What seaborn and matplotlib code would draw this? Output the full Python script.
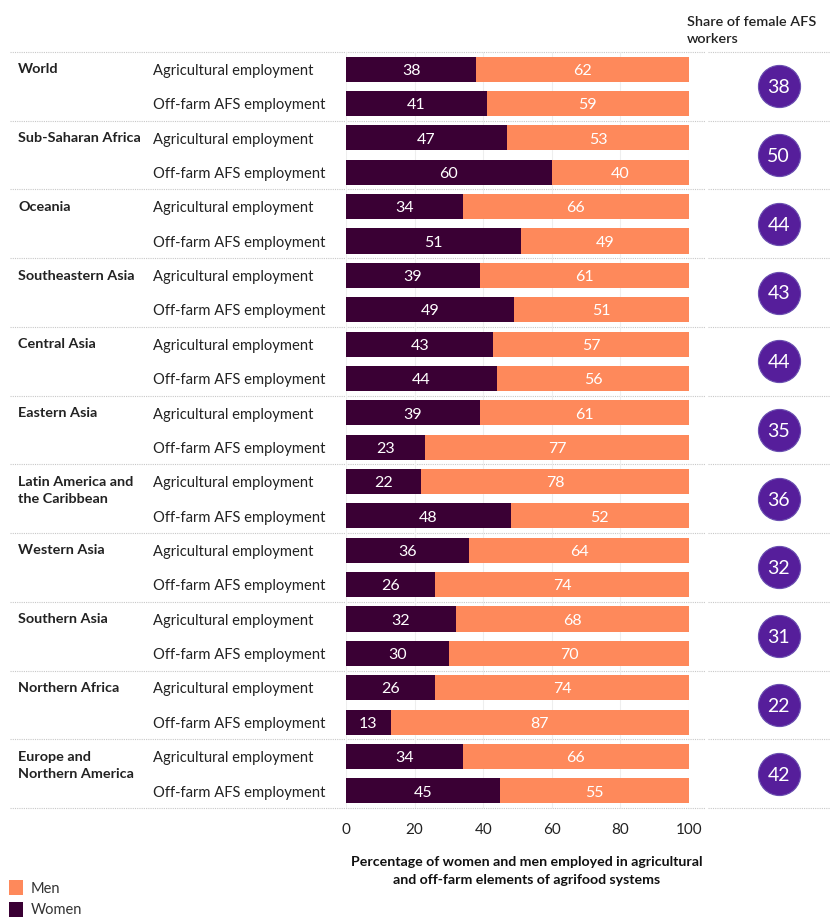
import matplotlib
matplotlib.use("Agg")
import matplotlib.pyplot as plt
import matplotlib.transforms as mtransforms
from matplotlib.patches import Patch
import seaborn as sns
import pandas as pd

regions = [
    "World", "Sub-Saharan Africa", "Oceania", "Southeastern Asia", "Central Asia",
    "Eastern Asia", "Latin America and\nthe Caribbean", "Western Asia",
    "Southern Asia", "Northern Africa", "Europe and\nNorthern America",
]
sectors = ["Agricultural employment", "Off-farm AFS employment"]

women_agri = [38, 47, 34, 39, 43, 39, 22, 36, 32, 26, 34]
men_agri = [62, 53, 66, 61, 57, 61, 78, 64, 68, 74, 66]
women_offfarm = [41, 60, 51, 49, 44, 23, 48, 26, 30, 13, 45]
men_offfarm = [59, 40, 49, 51, 56, 77, 52, 74, 70, 87, 55]
female_share = [38, 50, 44, 43, 44, 35, 36, 32, 31, 22, 42]

C_WOMEN = "#3a0034"
C_MEN = "#fe895b"
C_CIRCLE = "#561e9b"

rows = []
for i, reg in enumerate(regions):
    for sec, w, m in ((sectors[0], women_agri[i], men_agri[i]),
                      (sectors[1], women_offfarm[i], men_offfarm[i])):
        rows.append({"region": reg, "sector": sec, "key": f"{i}-{sec}",
                     "women": w, "men": m, "total": w + m})
df = pd.DataFrame(rows)

sns.set_theme(style="white")
plt.rcParams["font.family"] = ["Lato", "DejaVu Sans"]

W, H = 830, 919
fig = plt.figure(figsize=(W / 100, H / 100), dpi=100)

top_px, bot_px = 52, 808
ax = fig.add_axes([346 / W, 1 - bot_px / H, 343 / W, (bot_px - top_px) / H])

# stacked bars: full bar in the men's colour, women's share drawn over it
sns.barplot(data=df, x="total", y="key", color=C_MEN, width=0.73,
            orient="h", ax=ax, linewidth=0, saturation=1)
sns.barplot(data=df, x="women", y="key", color=C_WOMEN, width=0.73,
            orient="h", ax=ax, linewidth=0, saturation=1)

n = len(df)
ax.set_ylim(n - 0.5, -0.5)
ax.set_xlim(0, 100)
ax.set_xticks([0, 20, 40, 60, 80, 100])
ax.tick_params(axis="x", length=0, pad=11, labelsize=11, labelcolor="#222222")
ax.set_yticks([])
ax.set_xlabel("")
ax.set_ylabel("")
for s in ax.spines.values():
    s.set_visible(False)
ax.xaxis.grid(True, color="#eeeeee", lw=0.8)
ax.set_axisbelow(True)

# segment values
dy = 0.05
for idx, r in df.iterrows():
    ax.text(r["women"] / 2, idx + dy, f"{r['women']}", ha="center", va="center",
            color="white", fontsize=11.5)
    ax.text(r["women"] + r["men"] / 2, idx + dy, f"{r['men']}", ha="center",
            va="center", color="white", fontsize=11.5)

# row labels on the left
lab_tr = mtransforms.blended_transform_factory(fig.transFigure, ax.transData)
for idx, r in df.iterrows():
    ax.text(153 / W, idx + dy, r["sector"], transform=lab_tr, ha="left",
            va="center", fontsize=10.6, color="#222222")
for g, reg in enumerate(regions):
    ax.text(18 / W, 2 * g - 0.17, reg, transform=lab_tr, ha="left", va="top",
            fontsize=10.4, fontweight="bold", color="#222222", linespacing=1.5)

# dotted group separators
for g in range(len(regions) + 1):
    y = 2 * g - 0.5
    for x0, x1 in ((10 / W, 705 / W), (708 / W, 1.0)):
        ax.plot([x0, x1], [y, y], transform=lab_tr, color="#c8c8c8", lw=0.8,
                ls=(0, (1, 1)), clip_on=False, zorder=0)

# right panel: share of female AFS workers
cax = fig.add_axes([708 / W, 1 - bot_px / H, 122 / W, (bot_px - top_px) / H])
circ = pd.DataFrame({"x": [0.58] * len(regions),
                     "y": [2 * g + 0.5 for g in range(len(regions))],
                     "share": female_share})
sns.scatterplot(data=circ, x="x", y="y", s=920, color=C_CIRCLE,
                edgecolor="#6a4fb0", linewidth=0.8, ax=cax, legend=False)
for _, r in circ.iterrows():
    cax.text(r["x"], r["y"] + 0.04, f"{int(r['share'])}", ha="center",
             va="center", color="white", fontsize=14)
cax.set_xlim(0, 1)
cax.set_ylim(n - 0.5, -0.5)
cax.axis("off")

fig.text(687 / W, 1 - 16 / H, "Share of female AFS\nworkers", ha="left",
         va="top", fontsize=10.4, color="#222222", fontweight="semibold",
         linespacing=1.5)

fig.text(527 / W, 1 - 856 / H,
         "Percentage of women and men employed in agricultural\nand off-farm elements of agrifood systems",
         ha="center", va="top", fontsize=10.2, fontweight="bold", color="#111111",
         linespacing=1.6)

handles = [Patch(facecolor=C_MEN, edgecolor="none", label="Men"),
           Patch(facecolor=C_WOMEN, edgecolor="none", label="Women")]
fig.legend(handles=handles, loc="upper left", bbox_to_anchor=(8 / W, 1 - 879 / H),
           frameon=False, fontsize=10.5, handlelength=0.95, handleheight=1.15,
           handletextpad=0.5, labelspacing=0.45, borderaxespad=0.0,
           borderpad=0.1, labelcolor="#333333")

fig.savefig("out.png", dpi=100, facecolor="white")
